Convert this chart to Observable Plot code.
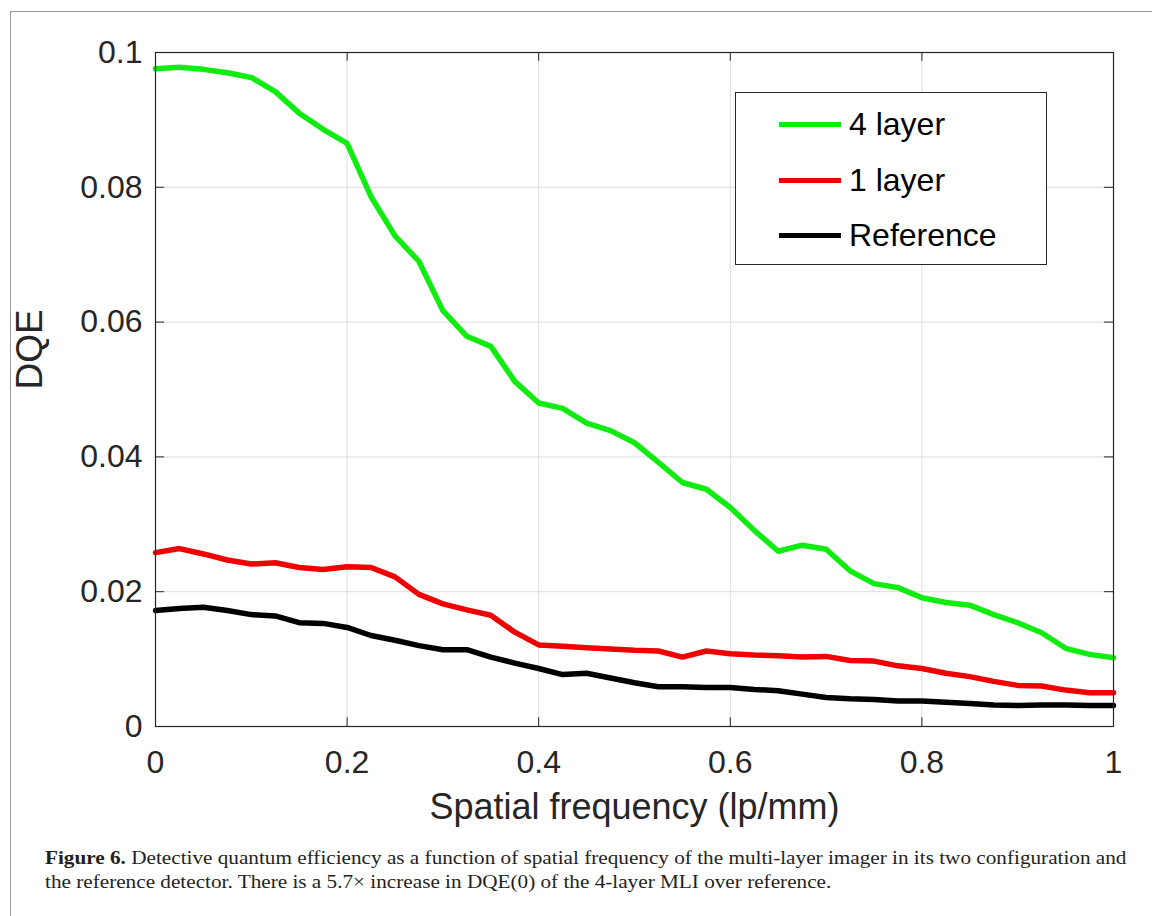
<!DOCTYPE html>
<html><head><meta charset="utf-8">
<script src="https://cdn.jsdelivr.net/npm/d3@7"></script>
<script src="https://cdn.jsdelivr.net/npm/@observablehq/plot@0.6"></script>
<style>
body{margin:0;background:#fff;width:1152px;height:916px;overflow:hidden;position:relative;font-family:"Liberation Sans",Arial,sans-serif;}
#frame{position:absolute;left:10px;top:11px;width:1200px;height:1000px;border:1.5px solid #9a9a9a;box-sizing:border-box;}
#chart{position:absolute;left:0;top:0;}
#legend{position:absolute;left:735px;top:92px;width:312px;height:173px;border:1px solid #262626;background:#fff;box-sizing:border-box;}
.item{position:absolute;left:43px;height:40px;display:flex;align-items:center;font-size:32px;color:#000;white-space:nowrap}
.swatch{width:62px;height:5px;margin-right:8px}
#caption{position:absolute;left:45px;top:846px;font-family:"Liberation Serif","Times New Roman",serif;font-size:18px;line-height:24px;color:#231f20;white-space:nowrap;transform:scaleX(1.178);transform-origin:0 0}
</style></head>
<body>
<div id="frame"></div>
<div id="chart"></div>
<div id="legend"></div>
<div id="caption"><b>Figure 6.</b> Detective quantum efficiency as a function of spatial frequency of the multi-layer imager in its two configuration and<br>the reference detector. There is a 5.7× increase in DQE(0) of the 4-layer MLI over reference.</div>
<script>
const freq = [0,0.025,0.05,0.075,0.1,0.125,0.15,0.175,0.2,0.225,0.25,0.275,0.3,0.325,0.35,0.375,0.4,0.425,0.45,0.475,0.5,0.525,0.55,0.575,0.6,0.625,0.65,0.675,0.7,0.725,0.75,0.775,0.8,0.825,0.85,0.875,0.9,0.925,0.95,0.975,1.0];
const dqe4Layer = [0.0976,0.0978,0.0975,0.0970,0.0963,0.0942,0.0910,0.0886,0.0865,0.0786,0.0728,0.0690,0.0617,0.0579,0.0564,0.0512,0.0480,0.0472,0.0450,0.0439,0.0421,0.0392,0.0362,0.0352,0.0325,0.0291,0.0260,0.0269,0.0263,0.0231,0.0212,0.0206,0.0191,0.0184,0.0180,0.0166,0.0154,0.0139,0.0116,0.0107,0.0102];
const dqe1Layer = [0.0258,0.0264,0.0256,0.0247,0.0241,0.0243,0.0236,0.0233,0.0237,0.0236,0.0222,0.0196,0.0182,0.0173,0.0165,0.0140,0.0121,0.0119,0.0117,0.0115,0.0113,0.0112,0.0103,0.0112,0.0108,0.0106,0.0105,0.0103,0.0104,0.0098,0.0097,0.0090,0.0086,0.0079,0.0074,0.0067,0.0061,0.0060,0.0054,0.0050,0.0050];
const dqeReference = [0.0172,0.0175,0.0177,0.0172,0.0166,0.0164,0.0154,0.0153,0.0147,0.0135,0.0128,0.0120,0.0114,0.0114,0.0103,0.0094,0.0086,0.0077,0.0079,0.0072,0.0065,0.0059,0.0059,0.0058,0.0058,0.0055,0.0053,0.0048,0.0043,0.0041,0.0040,0.0038,0.0038,0.0036,0.0034,0.0032,0.0031,0.0032,0.0032,0.0031,0.0031];
const seriesNames = ["4 layer","1 layer","Reference"];
const seriesColors = ["#10ec10","#f00000","#000000"];
const seriesValues = [dqe4Layer, dqe1Layer, dqeReference];
const xTicks = [0,0.2,0.4,0.6,0.8,1];
const xTickLabels = ["0","0.2","0.4","0.6","0.8","1"];
const yTicks = [0,0.02,0.04,0.06,0.08,0.1];
const yTickLabels = ["0","0.02","0.04","0.06","0.08","0.1"];
const xTitle = "Spatial frequency (lp/mm)";
const yTitle = "DQE";

const rows = [];
seriesNames.forEach((name, s) => freq.forEach((f, i) => rows.push({series: name, freq: f, dqe: seriesValues[s][i]})));

const ink = "#262626";
const chart = Plot.plot({
  width: 1152, height: 830,
  marginLeft: 155, marginRight: 39, marginTop: 52, marginBottom: 104,
  style: {fontFamily: '"Liberation Sans", Arial, sans-serif', background: "transparent"},
  x: {domain: [0, 1]},
  y: {domain: [0, 0.1]},
  color: {domain: seriesNames, range: seriesColors},
  marks: [
    Plot.gridX(xTicks, {stroke: "#dcdcdc", strokeOpacity: 1, strokeWidth: 1}),
    Plot.gridY(yTicks, {stroke: "#dcdcdc", strokeOpacity: 1, strokeWidth: 1}),
    Plot.ruleX(xTicks, {y1: 0, y2: 0.0013, stroke: ink}),
    Plot.ruleX(xTicks, {y1: 0.1, y2: 0.0987, stroke: ink}),
    Plot.ruleY(yTicks, {x1: 0, x2: 0.0095, stroke: ink}),
    Plot.ruleY(yTicks, {x1: 1, x2: 0.9905, stroke: ink}),
    Plot.line(rows, {x: "freq", y: "dqe", z: "series", stroke: "series", strokeWidth: 5.5, curve: "linear", strokeLinejoin: "round", strokeLinecap: "round"}),
    Plot.frame({stroke: ink, strokeWidth: 1.2}),
    Plot.axisX(xTicks, {tickSize: 0, tickPadding: 24, fontSize: 32, fill: ink, label: null, tickFormat: (d, i) => xTickLabels[i]}),
    Plot.axisY(yTicks, {tickSize: 0, tickPadding: 13, fontSize: 32, fill: ink, label: null, tickFormat: (d, i) => yTickLabels[i]}),
    Plot.text([xTitle], {frameAnchor: "bottom", dy: 92, fontSize: 36, fill: ink}),
    Plot.text([yTitle], {frameAnchor: "left", dx: -125, rotate: -90, fontSize: 37, fill: ink})
  ]
});
document.getElementById("chart").appendChild(chart);

const legend = document.getElementById("legend");
const legendTops = [11, 67, 122];
seriesNames.forEach((name, i) => {
  const it = document.createElement("div");
  it.className = "item";
  it.style.top = legendTops[i] + "px";
  it.innerHTML = `<span class="swatch" style="background:${seriesColors[i]}"></span><span>${name}</span>`;
  legend.appendChild(it);
});
</script>
</body></html>
